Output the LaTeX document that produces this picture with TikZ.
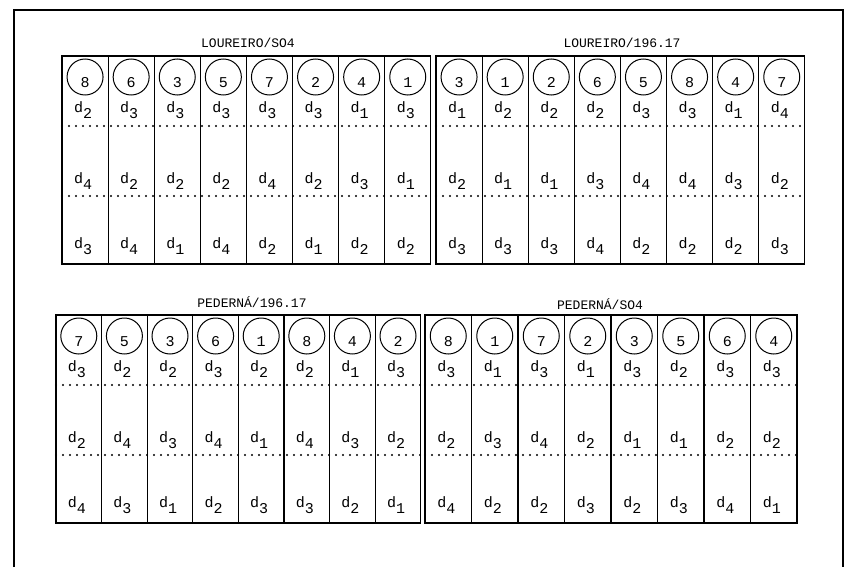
\documentclass[tikz,border=0pt]{standalone}
\usepackage{fontspec}
\setmonofont{Liberation Mono}
\usepackage{tikz}

% label d with its index set low
\newcommand{\dlab}[1]{d\raisebox{-6pt}{#1}}

% one block of eight plots
% #1 name, #2 left, #3 top, #4 plot width, #5 numbers, #6-#8 rows
\newcommand{\plotblock}[8]{%
  \draw[plotline] (#2,-#3) rectangle ++(8*#4,-208);
  \foreach \i in {1,...,7}
    \draw[plotline] (#2+\i*#4,-#3) -- ++(0,-208);
  \draw[rowline] (#2,-#3-70) -- ++(8*#4,0);
  \draw[rowline] (#2,-#3-140) -- ++(8*#4,0);
  \foreach \n [count=\i] in {#5}
    \node[plotnum] (#1-n\i) at (#2+\i*#4-#4/2,-#3-21) {\n};
  \foreach \v [count=\i] in {#6}
    \node[dlabel] (#1-a\i) at (#2+\i*#4-#4/2,-#3-54) {\dlab{\v}};
  \foreach \v [count=\i] in {#7}
    \node[dlabel] (#1-b\i) at (#2+\i*#4-#4/2,-#3-125) {\dlab{\v}};
  \foreach \v [count=\i] in {#8}
    \node[dlabel] (#1-c\i) at (#2+\i*#4-#4/2,-#3-190) {\dlab{\v}};
}

\begin{document}
\begin{tikzpicture}[x=1pt, y=1pt,
  plotline/.style={line width=1.1pt},
  rowline/.style={line width=2.4pt, dash pattern=on 0pt off 7pt, line cap=round},
  plotnum/.style={circle, draw, line width=1pt, minimum size=36pt, inner sep=0pt,
    text height=21pt, text depth=0pt, font=\ttfamily\fontsize{15}{15}\selectfont},
  dlabel/.style={inner sep=0pt, xshift=-2pt, font=\ttfamily\fontsize{15}{15}\selectfont},
  title/.style={font=\ttfamily\fontsize{13}{13}\selectfont}]
  \useasboundingbox (0,0) rectangle (845,-567);

  % Frame
  \draw[line width=1.2pt] (14,-567) -- (14,-10) -- (843,-10) -- (843,-567);

  % Titles
  \node[title] (t1) at (248,-43) {LOUREIRO/SO4};
  \node[title] (t2) at (622,-43) {LOUREIRO/196.17};
  \node[title] (t3) at (252,-302) {PEDERNÁ/196.17};
  \node[title] (t4) at (600,-304) {PEDERNÁ/SO4};

  % Blocks
  \plotblock{lso}{62}{56}{46.1}{8,6,3,5,7,2,4,1}
    {2,3,3,3,3,3,1,3}{4,2,2,2,4,2,3,1}{3,4,1,4,2,1,2,2}
  \plotblock{lru}{436}{56}{46.1}{3,1,2,6,5,8,4,7}
    {1,2,2,2,3,3,1,4}{2,1,1,3,4,4,3,2}{3,3,3,4,2,2,2,3}
  \plotblock{pru}{56}{315}{45.6}{7,5,3,6,1,8,4,2}
    {3,2,2,3,2,2,1,3}{2,4,3,4,1,4,3,2}{4,3,1,2,3,3,2,1}
  \plotblock{pso}{425}{315}{46.5}{8,1,7,2,3,5,6,4}
    {3,1,3,1,3,2,3,3}{2,3,4,2,1,1,2,2}{4,2,2,3,2,3,4,1}
\end{tikzpicture}
\end{document}
